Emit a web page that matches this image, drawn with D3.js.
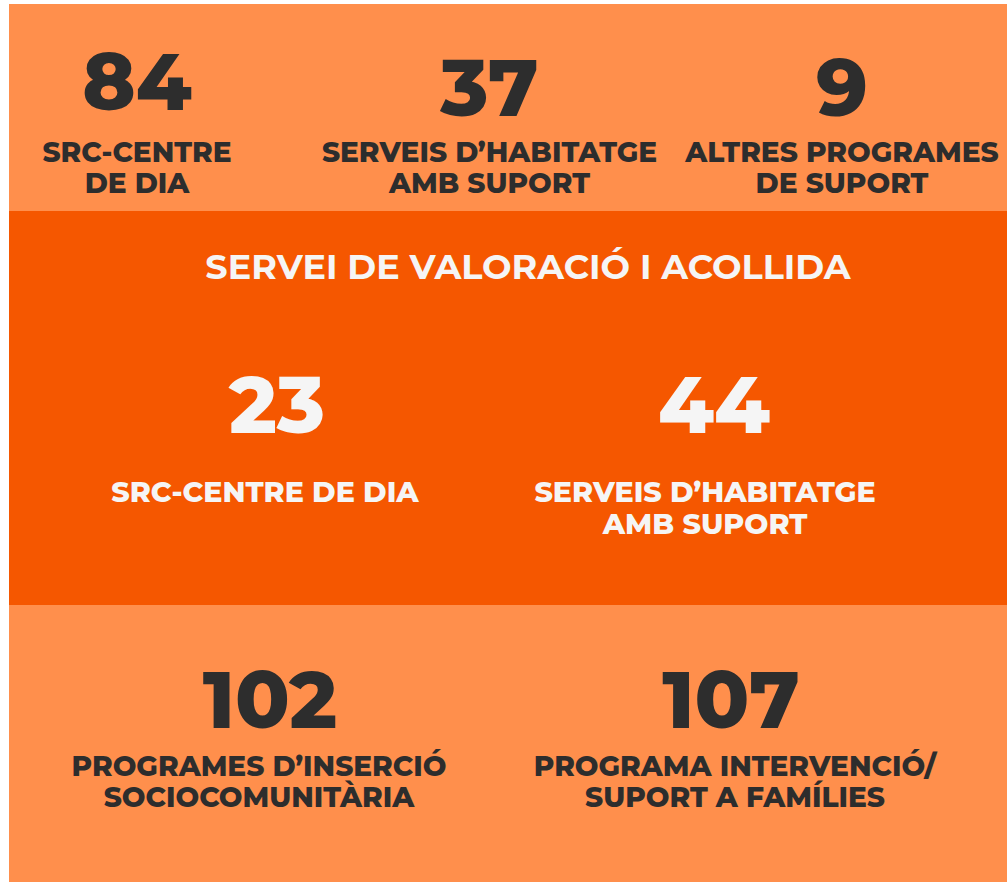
<!DOCTYPE html>
<html>
<head>
<meta charset="utf-8">
<script src="https://cdn.jsdelivr.net/npm/d3@7"></script>
<style>
  html, body { margin: 0; padding: 0; background: #ffffff; }
  text { font-family: Montserrat, Inter, "Open Sans", sans-serif; font-weight: 800; }
</style>
</head>
<body>
<div id="chart"></div>
<script>
// data
var topValues = [84, 37, 9];
var topLabels = [["SRC-CENTRE", "DE DIA"], ["SERVEIS D\u2019HABITATGE", "AMB SUPORT"], ["ALTRES PROGRAMES", "DE SUPORT"]];

var midTitle = "SERVEI DE VALORACI\u00d3 I ACOLLIDA";
var midValues = [23, 44];
var midLabels = [["SRC-CENTRE DE DIA"], ["SERVEIS D\u2019HABITATGE", "AMB SUPORT"]];

var bottomValues = [102, 107];
var bottomLabels = [["PROGRAMES D\u2019INSERCI\u00d3", "SOCIOCOMUNIT\u00c0RIA"], ["PROGRAMA INTERVENCI\u00d3/", "SUPORT A FAM\u00cdLIES"]];

var svgWidth = 1007;
var svgHeight = 882;

var lightOrange = "#ff8f4c";
var darkOrange = "#f55700";
var darkText = "#2d2d2d";
var lightText = "#f5f5f5";

var svg = d3.select("#chart")
  .append("svg")
  .attr("width", svgWidth)
  .attr("height", svgHeight);

// bands (top, middle, bottom)
var bands = [
  { y0: 4, y1: 211, fill: lightOrange },
  { y0: 211, y1: 605, fill: darkOrange },
  { y0: 605, y1: 882, fill: lightOrange }
];

svg.selectAll("rect.band")
  .data(bands)
  .enter()
  .append("rect")
  .attr("class", "band")
  .attr("x", 9)
  .attr("y", d => d.y0)
  .attr("width", svgWidth - 9)
  .attr("height", d => d.y1 - d.y0)
  .attr("fill", d => d.fill);

var numSize = 80;

function drawRow(values, labels, xNum, xLab, numBase, labBase, labelSize, lineGap, color) {
  var g = svg.append("g");
  g.selectAll("text.num")
    .data(values)
    .enter()
    .append("text")
    .attr("class", "num")
    .attr("text-anchor", "middle")
    .attr("x", (d, i) => xNum(i))
    .attr("y", (d, i) => numBase(i))
    .attr("font-size", numSize)
    .attr("fill", color)
    .text(d => d);

  labels.forEach(function(lines, i) {
    g.selectAll(null)
      .data(lines)
      .enter()
      .append("text")
      .attr("text-anchor", "middle")
      .attr("x", xLab(i))
      .attr("y", (d, j) => labBase(i) + j * lineGap)
      .attr("font-size", labelSize)
      .attr("fill", color)
      .text(d => d);
  });
}

// top row: three evenly spaced columns
var xTop = d3.scalePoint().domain([0, 1, 2]).range([137, 842]);
drawRow(topValues, topLabels,
  i => xTop(i), i => xTop(i),
  i => (i === 0 ? 110 : 116), i => 162, 28, 31, darkText);

// middle row
svg.append("text")
  .attr("text-anchor", "middle")
  .attr("x", 528)
  .attr("y", 279)
  .attr("font-size", 35)
  .style("font-weight", 700)
  .attr("fill", lightText)
  .text(midTitle);

var xMidNum = d3.scalePoint().domain([0, 1]).range([277, 714]);
var xMidLab = d3.scalePoint().domain([0, 1]).range([265, 705]);
drawRow(midValues, midLabels,
  i => xMidNum(i), i => xMidLab(i),
  i => 433, i => 502, 28.5, 32, lightText);

// bottom row
var xBotNum = d3.scalePoint().domain([0, 1]).range([270, 731]);
var xBotLab = d3.scalePoint().domain([0, 1]).range([259, 735]);
drawRow(bottomValues, bottomLabels,
  i => xBotNum(i), i => xBotLab(i),
  i => 728, i => 776, 28, 31, darkText);
</script>
</body>
</html>
